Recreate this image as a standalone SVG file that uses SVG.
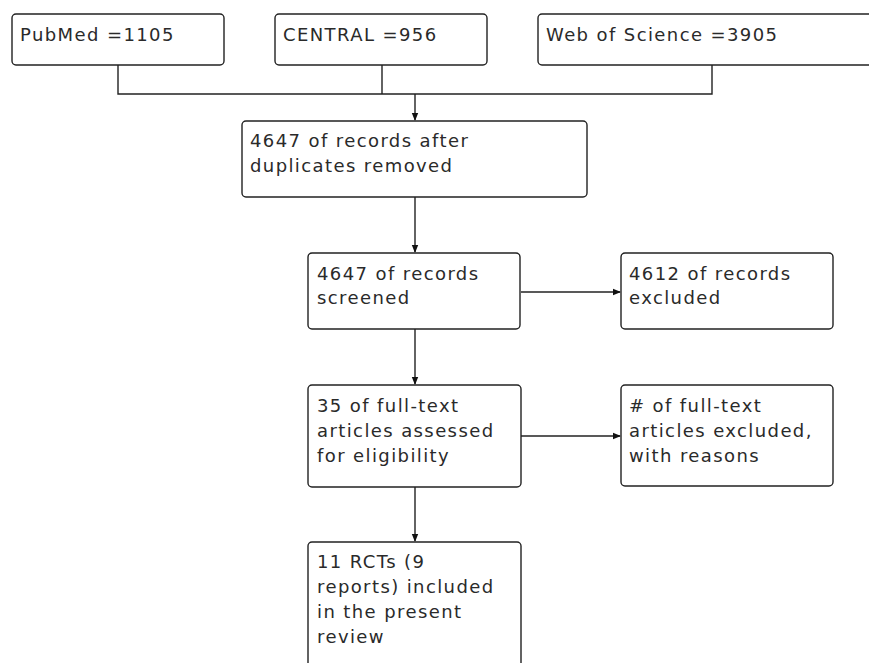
<svg xmlns="http://www.w3.org/2000/svg" width="869" height="663" viewBox="0 0 869 663">
<style>
.box{fill:#fff;stroke:#222;stroke-width:1.4}
.t{font-family:"DejaVu Sans",Verdana,sans-serif;font-size:18px;letter-spacing:1.4px;fill:#2a2a2a}
.c{fill:none;stroke:#222;stroke-width:1.4}
</style>
<defs>
<marker id="ah" markerUnits="userSpaceOnUse" markerWidth="8" markerHeight="8" refX="7" refY="4" orient="auto">
<path d="M0,0.8 L8,4 L0,7.2 z" fill="#111"/>
</marker>
</defs>
<rect width="869" height="663" fill="#fff"/>
<g id="connectors">
<path class="c" d="M118,65 V94 H712 V65"/>
<path class="c" d="M382,65 V94"/>
<path class="c" d="M415,94 V120" marker-end="url(#ah)"/>
<path class="c" d="M415,197 V252" marker-end="url(#ah)"/>
<path class="c" d="M521,292 H620" marker-end="url(#ah)"/>
<path class="c" d="M415,329 V384" marker-end="url(#ah)"/>
<path class="c" d="M521,436 H620" marker-end="url(#ah)"/>
<path class="c" d="M415,487 V541" marker-end="url(#ah)"/>
</g>
<g id="pubmed">
<rect class="box" x="12" y="14" width="212" height="51" rx="4"/>
<text class="t" x="20" y="41">PubMed =1105</text>
</g>
<g id="central">
<rect class="box" x="275" y="14" width="212" height="51" rx="4"/>
<text class="t" x="283" y="41">CENTRAL =956</text>
</g>
<g id="wos">
<rect class="box" x="538" y="14" width="340" height="51" rx="4"/>
<text class="t" x="546" y="41">Web of Science =3905</text>
</g>
<g id="dedup">
<rect class="box" x="242" y="121" width="345" height="76" rx="4"/>
<text class="t" x="250" y="147">4647 of records after</text>
<text class="t" x="250" y="172">duplicates removed</text>
</g>
<g id="screened">
<rect class="box" x="308" y="253" width="212" height="76" rx="4"/>
<text class="t" x="317" y="280">4647 of records</text>
<text class="t" x="317" y="304">screened</text>
</g>
<g id="excluded">
<rect class="box" x="621" y="253" width="212" height="76" rx="4"/>
<text class="t" x="629" y="280">4612 of records</text>
<text class="t" x="629" y="304">excluded</text>
</g>
<g id="fulltext">
<rect class="box" x="308" y="385" width="213" height="102" rx="4"/>
<text class="t" x="317" y="412">35 of full-text</text>
<text class="t" x="317" y="437">articles assessed</text>
<text class="t" x="317" y="462">for eligibility</text>
</g>
<g id="ftexcluded">
<rect class="box" x="621" y="385" width="212" height="101" rx="4"/>
<text class="t" x="629" y="412"># of full-text</text>
<text class="t" x="629" y="437">articles excluded,</text>
<text class="t" x="629" y="462">with reasons</text>
</g>
<g id="included">
<rect class="box" x="308" y="542" width="213" height="140" rx="4"/>
<text class="t" x="317" y="568">11 RCTs (9</text>
<text class="t" x="317" y="593">reports) included</text>
<text class="t" x="317" y="618">in the present</text>
<text class="t" x="317" y="643">review</text>
</g>
</svg>
